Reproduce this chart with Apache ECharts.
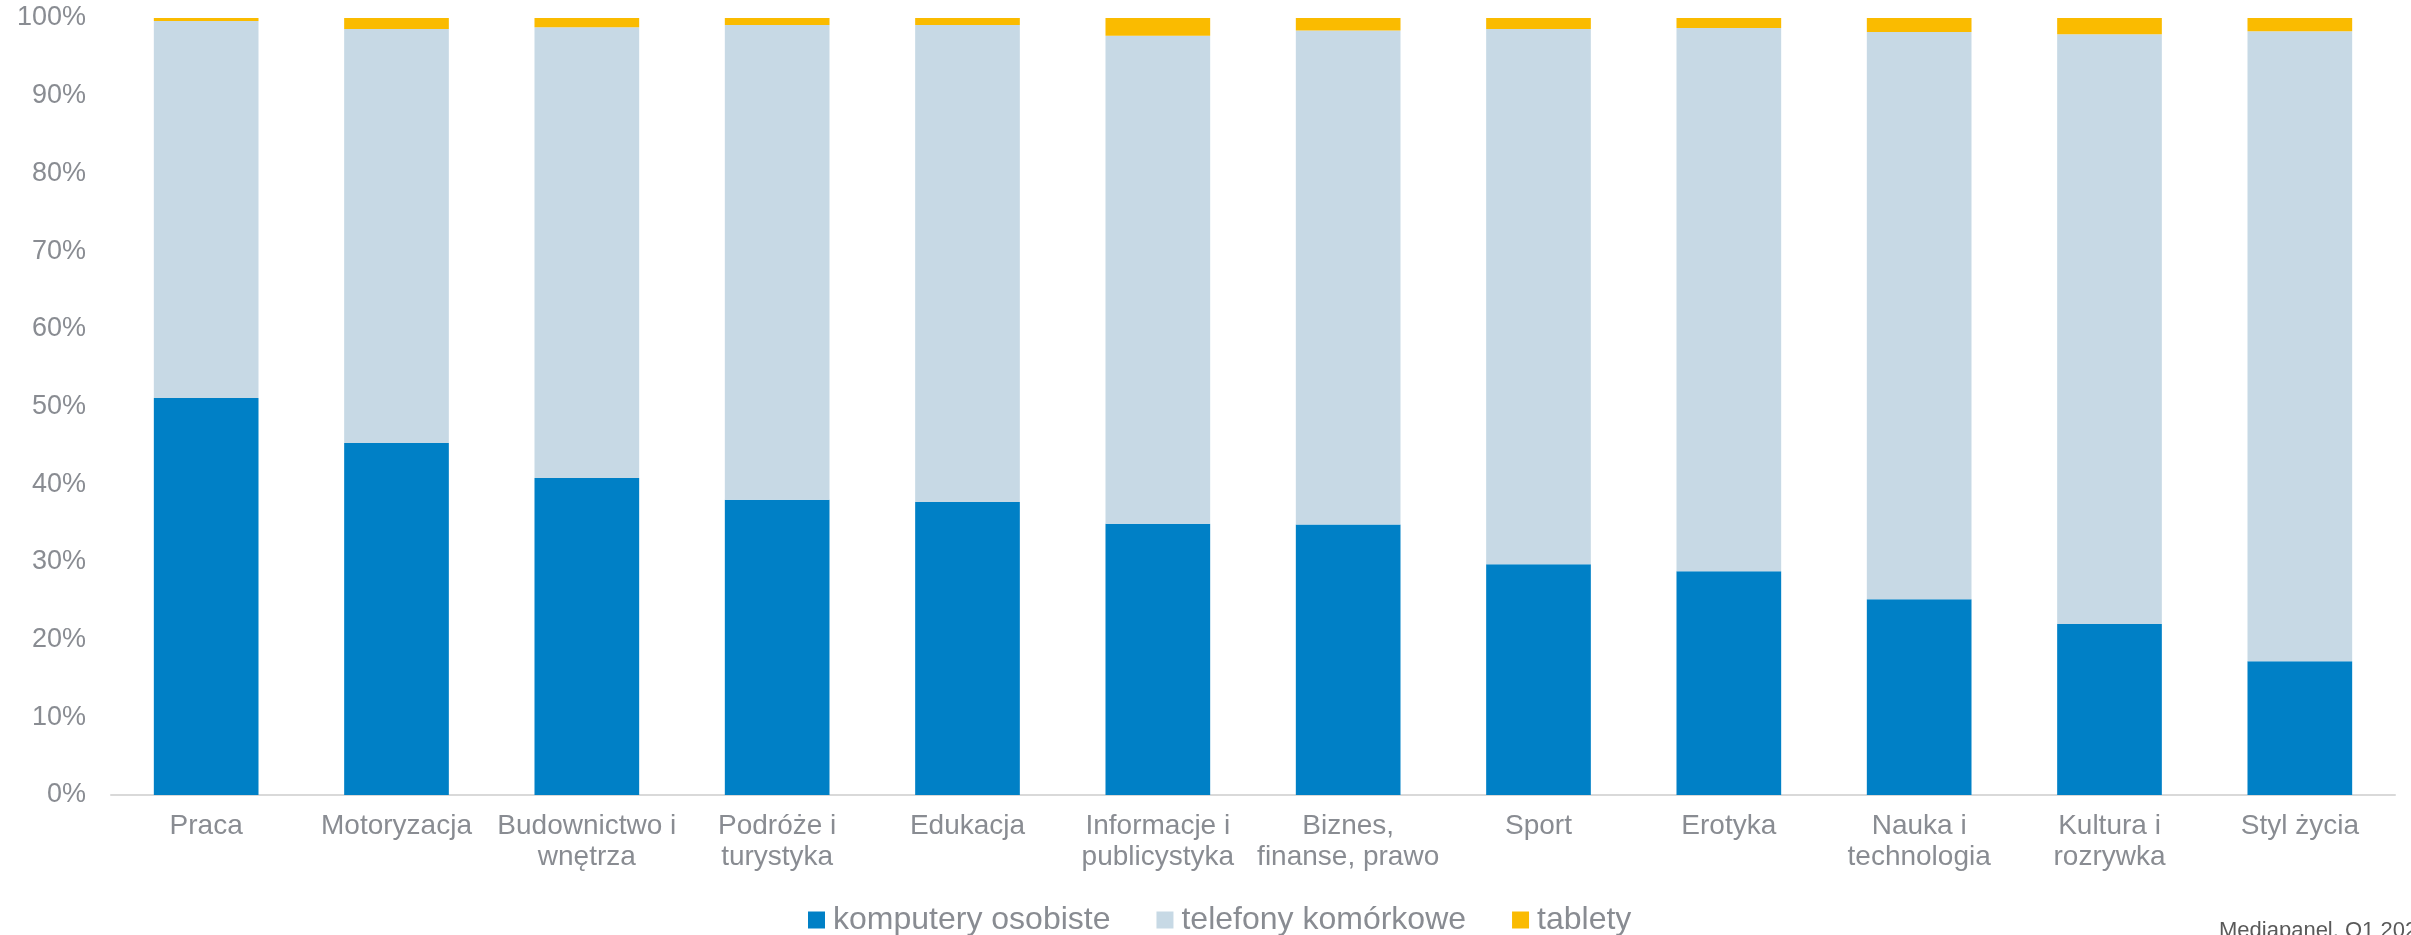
<!DOCTYPE html>
<html>
<head>
<meta charset="utf-8">
<script src="https://cdn.jsdelivr.net/npm/echarts@6/dist/echarts.min.js"></script>
<style>
  html, body { margin: 0; padding: 0; background: #fff; }
  #chart { width: 2411px; height: 935px; }
</style>
</head>
<body>
<div id="chart"></div>
<script>
// kategorie i udziały (%)
const categories = [
  "Praca", "Motoryzacja", "Budownictwo i\nwnętrza", "Podróże i\nturystyka",
  "Edukacja", "Informacje i\npublicystyka", "Biznes,\nfinanse, prawo", "Sport",
  "Erotyka", "Nauka i\ntechnologia", "Kultura i\nrozrywka", "Styl życia"
];
const komputery = [51.1, 45.3, 40.8, 38.0, 37.7, 34.9, 34.8, 29.7, 28.8, 25.2, 22.0, 17.2];
const telefony = [48.5, 53.3, 58.0, 61.1, 61.4, 62.8, 63.6, 68.9, 69.9, 73.0, 75.9, 81.1];
const tablety = [0.4, 1.4, 1.2, 0.9, 0.9, 2.3, 1.6, 1.4, 1.3, 1.8, 2.1, 1.7];
const yTicks = [0, 10, 20, 30, 40, 50, 60, 70, 80, 90, 100];

const textGray = "#898c92";
const font = "'Liberation Sans', Arial, sans-serif";

let chart = echarts.init(document.getElementById("chart"));

let option = {
  animation: false,
  textStyle: { fontFamily: font },
  grid: { left: 111, right: 16, top: 18, bottom: 140, containLabel: false },
  legend: {
    left: 808,
    top: 904,
    padding: 0,
    itemWidth: 17,
    itemHeight: 17,
    itemGap: 46,
    icon: "rect",
    textStyle: { color: textGray, fontSize: 32, fontFamily: font, padding: [0, 0, 0, 3] },
    data: ["komputery osobiste", "telefony komórkowe", "tablety"]
  },
  xAxis: {
    type: "category",
    data: categories,
    axisLine: { show: true, lineStyle: { color: "#d9d9d9", width: 2 } },
    axisTick: { show: false },
    axisLabel: {
      interval: 0,
      hideOverlap: false,
      color: textGray,
      fontSize: 28,
      lineHeight: 31,
      margin: 16,
      fontFamily: font
    }
  },
  yAxis: {
    type: "value",
    min: yTicks[0],
    max: yTicks[yTicks.length - 1],
    interval: 10,
    splitLine: { show: false },
    axisLine: { show: false },
    axisTick: { show: false },
    axisLabel: {
      color: textGray,
      fontSize: 27,
      margin: 25,
      fontFamily: font,
      formatter: "{value}%"
    }
  },
  series: [
    {
      name: "komputery osobiste",
      type: "bar",
      stack: "total",
      barWidth: "55%",
      itemStyle: { color: "#0080c6" },
      data: komputery
    },
    {
      name: "telefony komórkowe",
      type: "bar",
      stack: "total",
      itemStyle: { color: "#c7d9e5" },
      data: telefony
    },
    {
      name: "tablety",
      type: "bar",
      stack: "total",
      itemStyle: { color: "#fabb00" },
      data: tablety
    }
  ],
  graphic: [
    {
      type: "text",
      left: 2219,
      top: 920,
      style: {
        text: "Mediapanel, Q1 2022",
        fill: "#595959",
        fontSize: 22,
        fontFamily: font
      }
    }
  ]
};

chart.setOption(option);
</script>
</body>
</html>
